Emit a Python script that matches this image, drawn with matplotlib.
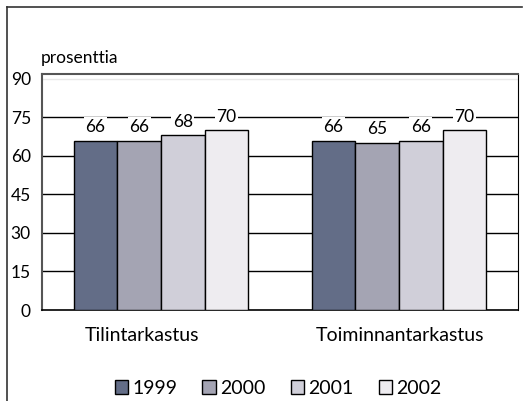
import matplotlib.pyplot as plt
import numpy as np
from matplotlib.lines import Line2D

plt.rcParams['font.family'] = ['Lato', 'DejaVu Sans']

categories = ['Tilintarkastus', 'Toiminnantarkastus']
years = ['1999', '2000', '2001', '2002']
values = {
    '1999': [66, 66],
    '2000': [66, 65],
    '2001': [68, 66],
    '2002': [70, 70],
}
colors = ['#636d87', '#a4a4b3', '#d0cfd9', '#eeecf0']

fig = plt.figure(figsize=(5.23, 4.01), dpi=100)
ax = fig.add_axes([0.0803, 0.2269, 0.9100, 0.5886])

x = np.arange(len(categories))
w = 0.1835
for i, yr in enumerate(years):
    pos = x + (i - 1.5) * w
    bars = ax.bar(pos, values[yr], w, color=colors[i], edgecolor='black',
                  linewidth=1.0, label=yr, zorder=3)
    for p, v in zip(pos, values[yr]):
        ax.text(p, v + 2.2, str(v), ha='center', va='bottom', fontsize=12.5,
                bbox=dict(facecolor='white', edgecolor='none', pad=1.0), zorder=4)

ax.set_xlim(-0.5, 1.5)
ax.set_ylim(0, 91.9)
ax.set_yticks([0, 15, 30, 45, 60, 75, 90])
ax.tick_params(axis='y', length=0, pad=8, labelsize=12.5)
ax.tick_params(axis='x', length=0, pad=12, labelsize=14)
ax.set_xticks(x + np.array([-0.08, 0.005]))
ax.set_xticklabels(categories)
for yv in [15, 30, 45, 60, 75]:
    ax.axhline(yv, color='black', linewidth=1.0, zorder=1)
ax.axhline(90, color='#e8e8e8', linewidth=1.0, zorder=1)

ax.spines['top'].set_color('#555555')
ax.spines['top'].set_linewidth(1.5)
ax.spines['left'].set_color('#555555')
ax.spines['left'].set_linewidth(1.5)
ax.spines['right'].set_color('black')
ax.spines['bottom'].set_color('black')
ax.spines['bottom'].set_linewidth(1.2)

fig.text(41 / 523, 1 - 58 / 401, 'prosenttia', ha='left', va='center', fontsize=12.5)

fig.legend(loc='center', bbox_to_anchor=(278 / 523, 1 - 388 / 401), ncol=4,
           frameon=False, fontsize=14, handlelength=0.7, handleheight=0.7,
           handletextpad=0.2, columnspacing=1.3)

# outer frame (left and top edges)
fig.add_artist(Line2D([7 / 523, 7 / 523], [0, 1 - 7 / 401], color='#333333',
                      linewidth=1.2, transform=fig.transFigure))
fig.add_artist(Line2D([7 / 523, 522 / 523], [1 - 7 / 401, 1 - 7 / 401],
                      color='#333333', linewidth=1.2, transform=fig.transFigure))

fig.savefig('out.png', dpi=100)
